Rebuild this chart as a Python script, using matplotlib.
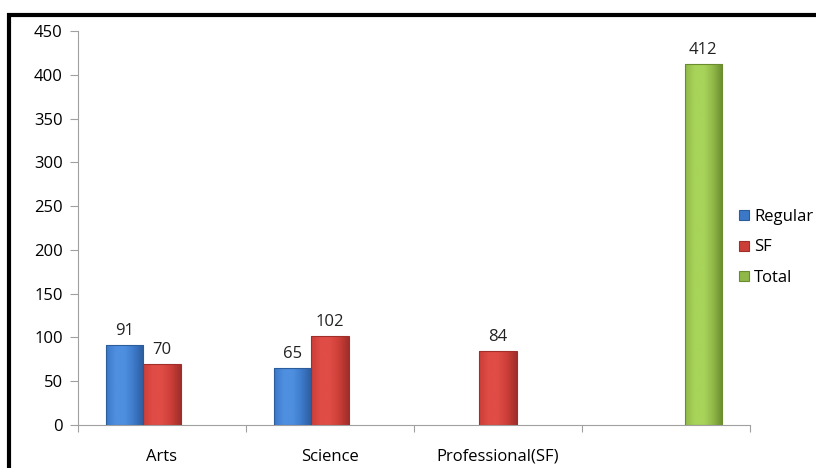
import matplotlib
matplotlib.use("Agg")
import matplotlib.pyplot as plt
import numpy as np
from matplotlib.colors import LinearSegmentedColormap
from matplotlib.patches import Rectangle

categories = ["Arts", "Science", "Professional(SF)", ""]
series_names = ["Regular", "SF", "Total"]
regular = [91, 65, np.nan, np.nan]
sf = [70, 102, 84, np.nan]
total = [np.nan, np.nan, np.nan, 412]

# (edge, mid, light)
colors = {"Regular": ("#2c5c9c", "#3c78c8", "#4f8fe0"),
          "SF": ("#a02e2a", "#cc3e38", "#e04c46"),
          "Total": ("#6a8c2e", "#90b848", "#a8d45a")}

plt.rcParams["font.family"] = ["Open Sans", "DejaVu Sans"]
FS = 12


def gradient_bar(ax, patch, dark, mid, light):
    # gentle horizontal shading, lighter left of centre, clipped to the bar
    x0, y0 = patch.get_x(), patch.get_y()
    w, h = patch.get_width(), patch.get_height()
    cmap = LinearSegmentedColormap.from_list("g", [mid, light, light, mid, dark])
    grad = np.linspace(0, 1, 64).reshape(1, -1)
    im = ax.imshow(grad, cmap=cmap, aspect="auto", extent=(x0, x0 + w, y0, y0 + h),
                   zorder=2, interpolation="bicubic")
    im.set_clip_path(patch)
    patch.set_facecolor("none")
    patch.set_edgecolor(dark)
    patch.set_linewidth(0.8)
    patch.set_zorder(3)


fig = plt.figure(figsize=(8.16, 4.68), dpi=100)
ax = fig.add_axes([78 / 816, 1 - 425 / 468, 672 / 816, 394 / 468])

x = np.arange(len(categories))
width = 1 / 4.5
data = [regular, sf, total]
handles = []
for i, (name, vals) in enumerate(zip(series_names, data)):
    bars = ax.bar(x + (i - 1) * width, vals, width,
                  color=colors[name][1], edgecolor=colors[name][0], zorder=3)
    handles.append(Rectangle((0, 0), 1, 1, facecolor=colors[name][1],
                             edgecolor=colors[name][0], linewidth=0.8))
    for b, v in zip(bars, vals):
        if np.isnan(v):
            continue
        gradient_bar(ax, b, *colors[name])
        ax.text(b.get_x() + b.get_width() / 2, v + 7, f"{v:g}", ha="center",
                va="bottom", fontsize=FS, color="#222222")

ax.set_xlim(-0.5, len(categories) - 0.5)
ax.set_ylim(0, 450)
ax.set_yticks(np.arange(0, 451, 50))
ax.set_xticks(np.arange(len(categories) + 1) - 0.5)
ax.set_xticklabels([])
ax.set_xticks(x, minor=True)
ax.set_xticklabels(categories, minor=True)
ax.tick_params(axis="x", which="minor", length=0, pad=17, labelsize=FS)
ax.tick_params(axis="x", which="major", length=5, color="#a0a0a0")
ax.tick_params(axis="y", length=6, color="#a0a0a0", labelsize=FS, pad=5)

for s in ["top", "right"]:
    ax.spines[s].set_visible(False)
for s in ["left", "bottom"]:
    ax.spines[s].set_color("#a0a0a0")

leg = fig.legend(handles, series_names, loc="upper left",
                 bbox_to_anchor=(731 / 816, 1 - 201 / 468), frameon=False,
                 fontsize=FS, handlelength=0.55, handleheight=0.55,
                 handletextpad=0.35, labelspacing=0.85, borderpad=0)

# outer frame (only left/top edges fall inside the image)
fig.patches.append(Rectangle((9 / 816, -0.2), 1.2, 1.2 - 15 / 468,
                             transform=fig.transFigure, fill=False,
                             edgecolor="black", linewidth=3))

fig.savefig("out.png", dpi=100)
